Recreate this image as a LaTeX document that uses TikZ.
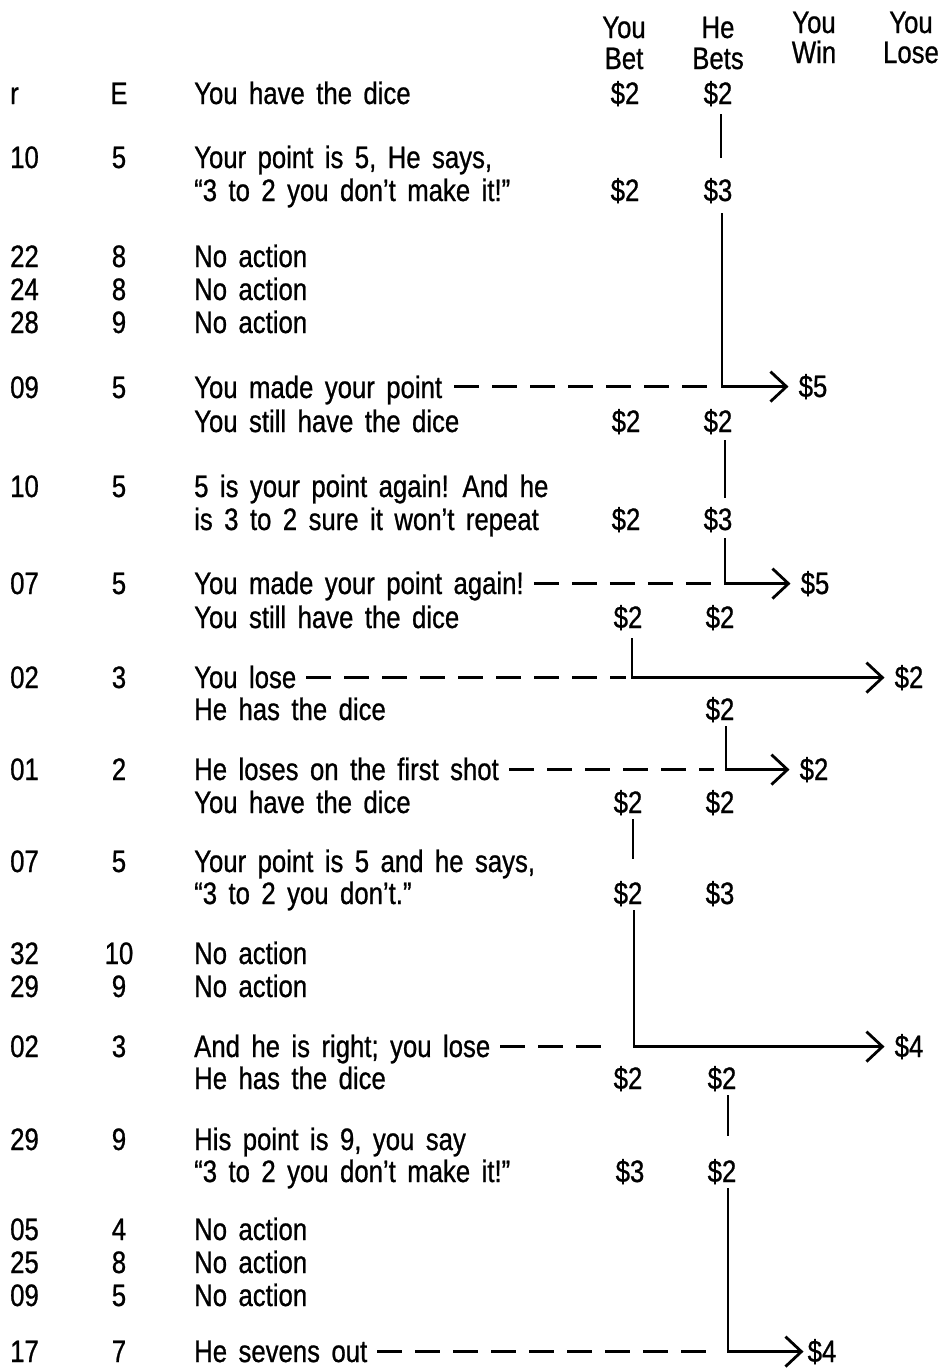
\documentclass[tikz,border=0pt]{standalone}
\usepackage{fontspec}
\setmainfont{Liberation Sans}[FakeStretch=0.83, FakeBold=0.8, WordSpace=1.6]
\usetikzlibrary{arrows.meta}
\begin{document}
\begin{tikzpicture}[x=1pt,y=-1pt,
  every node/.style={font=\fontsize{31}{36}\selectfont, inner sep=2pt},
  lbl/.style={anchor=base},
  txt/.style={anchor=base west},
  ln/.style={line width=2.8pt},
  arr/.style={ln, -{Straight Barb[length=16pt,width=30pt,line width=2.8pt]}},
  dsh/.style={line width=2.8pt, dash pattern=on 25pt off 13pt}]
\useasboundingbox (0,0) rectangle (946,1368);
% header
\node[lbl] (hy1) at (624,38) {You};
\node[lbl] (hy2) at (624,69) {Bet};
\node[lbl] (hh1) at (718,38) {He};
\node[lbl] (hh2) at (718,69) {Bets};
\node[lbl] (hw1) at (814,33) {You};
\node[lbl] (hw2) at (814,63) {Win};
\node[lbl] (hl1) at (911,33) {You};
\node[lbl] (hl2) at (911,63) {Lose};
% row 1
\node[txt] (r1) at (8,104) {r};
\node[lbl] (e1) at (119,104) {E};
\node[txt] (t1) at (192,104) {You have the dice};
\node[lbl] (b1) at (625,104) {\$2};
\node[lbl] (h1) at (718,104) {\$2};
% row 2
\node[txt] (r2) at (8,168) {10};
\node[lbl] (e2) at (119,168) {5};
\node[txt] (t2a) at (192,168) {Your point is 5, He says,};
\node[txt] (t2b) at (192,201) {“3 to 2 you don’t make it!”};
\node[lbl] (b2) at (625,201) {\$2};
\node[lbl] (h2) at (718,201) {\$3};
% row 3
\node[txt] (r3a) at (8,267) {22};
\node[lbl] (e3a) at (119,267) {8};
\node[txt] (t3a) at (192,267) {No action};
\node[txt] (r3b) at (8,300) {24};
\node[lbl] (e3b) at (119,300) {8};
\node[txt] (t3b) at (192,300) {No action};
\node[txt] (r3c) at (8,333) {28};
\node[lbl] (e3c) at (119,333) {9};
\node[txt] (t3c) at (192,333) {No action};
% row 4
\node[txt] (r4) at (8,398) {09};
\node[lbl] (e4) at (119,398) {5};
\node[txt] (t4a) at (192,398) {You made your point};
\node[lbl] (w4) at (813,397) {\$5};
\node[txt] (t4b) at (192,432) {You still have the dice};
\node[lbl] (b4) at (626,432) {\$2};
\node[lbl] (h4) at (718,432) {\$2};
% row 5
\node[txt] (r5) at (8,497) {10};
\node[lbl] (e5) at (119,497) {5};
\node[txt] (t5a) at (192,497) {5 is your point again! And he};
\node[txt] (t5b) at (192,530) {is 3 to 2 sure it won’t repeat};
\node[lbl] (b5) at (626,530) {\$2};
\node[lbl] (h5) at (718,530) {\$3};
% row 6
\node[txt] (r6) at (8,594) {07};
\node[lbl] (e6) at (119,594) {5};
\node[txt] (t6a) at (192,594) {You made your point again!};
\node[lbl] (w6) at (815,594) {\$5};
\node[txt] (t6b) at (192,628) {You still have the dice};
\node[lbl] (b6) at (628,628) {\$2};
\node[lbl] (h6) at (720,628) {\$2};
% row 7
\node[txt] (r7) at (8,688) {02};
\node[lbl] (e7) at (119,688) {3};
\node[txt] (t7a) at (192,688) {You lose};
\node[lbl] (l7) at (909,688) {\$2};
\node[txt] (t7b) at (192,720) {He has the dice};
\node[lbl] (h7) at (720,720) {\$2};
% row 8
\node[txt] (r8) at (8,780) {01};
\node[lbl] (e8) at (119,780) {2};
\node[txt] (t8a) at (192,780) {He loses on the first shot};
\node[lbl] (w8) at (814,780) {\$2};
\node[txt] (t8b) at (192,813) {You have the dice};
\node[lbl] (b8) at (628,813) {\$2};
\node[lbl] (h8) at (720,813) {\$2};
% row 9
\node[txt] (r9) at (8,872) {07};
\node[lbl] (e9) at (119,872) {5};
\node[txt] (t9a) at (192,872) {Your point is 5 and he says,};
\node[txt] (t9b) at (192,904) {“3 to 2 you don’t.”};
\node[lbl] (b9) at (628,904) {\$2};
\node[lbl] (h9) at (720,904) {\$3};
% row 10
\node[txt] (r10a) at (8,964) {32};
\node[lbl] (e10a) at (119,964) {10};
\node[txt] (t10a) at (192,964) {No action};
\node[txt] (r10b) at (8,997) {29};
\node[lbl] (e10b) at (119,997) {9};
\node[txt] (t10b) at (192,997) {No action};
% row 11
\node[txt] (r11) at (8,1057) {02};
\node[lbl] (e11) at (119,1057) {3};
\node[txt] (t11a) at (192,1057) {And he is right; you lose};
\node[lbl] (l11) at (909,1057) {\$4};
\node[txt] (t11b) at (192,1089) {He has the dice};
\node[lbl] (b11) at (628,1089) {\$2};
\node[lbl] (h11) at (722,1089) {\$2};
% row 12
\node[txt] (r12) at (8,1150) {29};
\node[lbl] (e12) at (119,1150) {9};
\node[txt] (t12a) at (192,1150) {His point is 9, you say};
\node[txt] (t12b) at (192,1182) {“3 to 2 you don’t make it!”};
\node[lbl] (b12) at (630,1182) {\$3};
\node[lbl] (h12) at (722,1182) {\$2};
% row 13
\node[txt] (r13a) at (8,1240) {05};
\node[lbl] (e13a) at (119,1240) {4};
\node[txt] (t13a) at (192,1240) {No action};
\node[txt] (r13b) at (8,1273) {25};
\node[lbl] (e13b) at (119,1273) {8};
\node[txt] (t13b) at (192,1273) {No action};
\node[txt] (r13c) at (8,1306) {09};
\node[lbl] (e13c) at (119,1306) {5};
\node[txt] (t13c) at (192,1306) {No action};
% row 14
\node[txt] (r14) at (8,1362) {17};
\node[lbl] (e14) at (119,1362) {7};
\node[txt] (t14) at (192,1362) {He sevens out};
\node[lbl] (w14) at (822,1362) {\$4};
% connectors
\draw[ln, shorten <=6pt, shorten >=18pt] ([xshift=3pt]h1.south) -- ([xshift=3pt]h2.north);
\draw[arr, shorten <=8pt, shorten >=8pt] ([xshift=4pt]h2.south) |- (w4.west);
\draw[dsh, shorten <=10pt, shorten >=8pt] (t4a.east |- w4.west) -- ([xshift=4pt]h2.south |- w4.west);
\draw[ln, shorten <=4pt, shorten >=7pt] ([xshift=7pt]h4.south) -- ([xshift=7pt]h5.north);
\draw[arr, shorten <=4pt, shorten >=8pt] ([xshift=7pt]h5.south) |- (w6.west);
\draw[dsh, shorten <=8pt] (t6a.east |- w6.west) -- ([xshift=7pt]h5.south |- w6.west);
\draw[arr, shorten <=6pt, shorten >=8pt] ([xshift=4pt]b6.south) |- (l7.west);
\draw[dsh, shorten <=8pt, shorten >=6pt] (t7a.east |- l7.west) -- ([xshift=4pt]b6.south |- l7.west);
\draw[arr, shorten <=2pt, shorten >=8pt] ([xshift=6pt]h7.south) |- (w8.west);
\draw[dsh, shorten <=8pt, shorten >=12pt] (t8a.east |- w8.west) -- ([xshift=6pt]h7.south |- w8.west);
\draw[ln, shorten <=2pt, shorten >=20pt] ([xshift=5pt]b8.south) -- ([xshift=5pt]b9.north);
\draw[arr, shorten <=2pt, shorten >=8pt] ([xshift=6pt]b9.south) |- (l11.west);
\draw[dsh, shorten <=8pt, shorten >=20pt] (t11a.east |- l11.west) -- ([xshift=6pt]b9.south |- l11.west);
\draw[ln, shorten <=2pt, shorten >=21pt] ([xshift=6pt]h11.south) -- ([xshift=6pt]h12.north);
\draw[arr, shorten <=2pt, shorten >=2pt] ([xshift=6pt]h12.south) |- (w14.west);
\draw[dsh, shorten <=8pt, shorten >=12pt] (t14.east |- w14.west) -- ([xshift=6pt]h12.south |- w14.west);
\end{tikzpicture}
\end{document}
